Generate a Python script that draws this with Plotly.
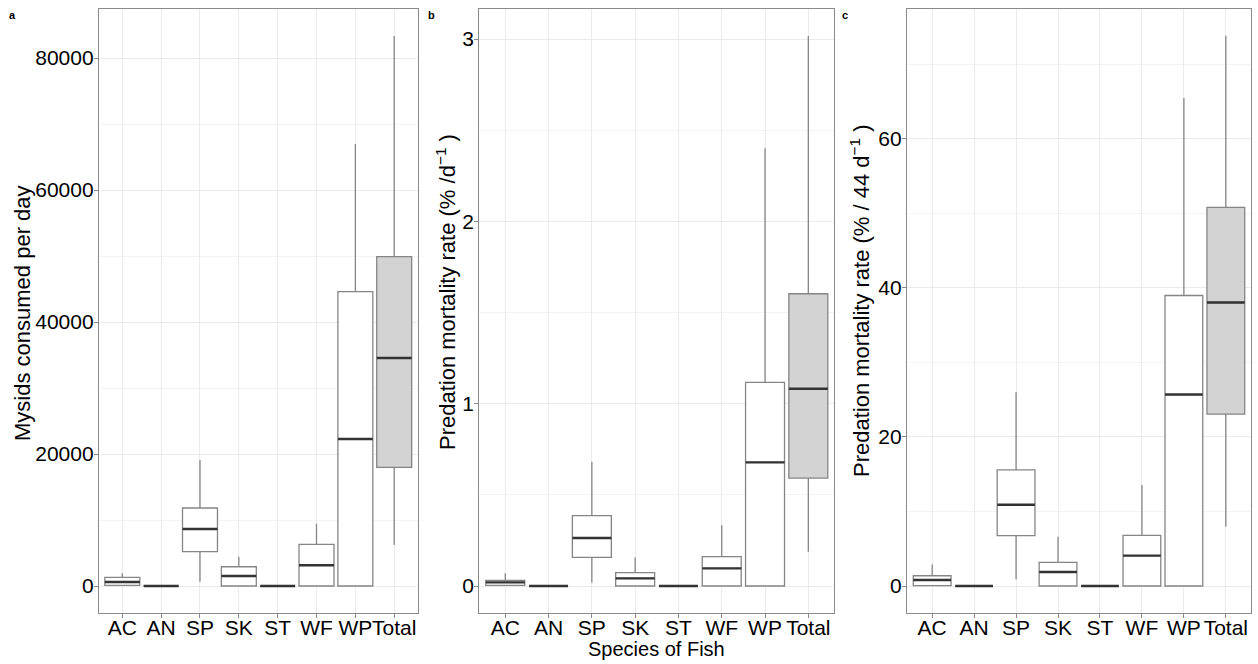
import plotly.graph_objects as go

W, H = 1258, 664

species = ["AC", "AN", "SP", "SK", "ST", "WF", "WP", "Total"]

# Panel a: mysids consumed per day
a_low = [0, 0, 650, 0, 0, 0, 0, 6200]
a_q1 = [100, 0, 5200, 0, 0, 0, 0, 17980]
a_med = [600, 0, 8640, 1520, 0, 3140, 22270, 34540]
a_q3 = [1300, 0, 11820, 2920, 0, 6320, 44590, 49890]
a_high = [1920, 0, 19090, 4440, 0, 9440, 66960, 83330]

# Panel b: predation mortality rate (% per day)
b_low = [0, 0, 0.018, 0, 0, 0, 0, 0.188]
b_q1 = [0.003, 0, 0.157, 0, 0, 0, 0, 0.592]
b_med = [0.02, 0, 0.263, 0.042, 0, 0.097, 0.678, 1.082]
b_q3 = [0.031, 0, 0.386, 0.073, 0, 0.161, 1.117, 1.603]
b_high = [0.07, 0, 0.682, 0.157, 0, 0.333, 2.401, 3.017]

# Panel c: predation mortality rate (% per 44 days)
c_low = [0, 0, 0.9, 0, 0, 0, 0, 7.96]
c_q1 = [0.05, 0, 6.75, 0, 0, 0, 0, 23.05]
c_med = [0.8, 0, 10.9, 1.88, 0, 4.07, 25.68, 38.03]
c_q3 = [1.38, 0, 15.57, 3.18, 0, 6.8, 38.97, 50.78]
c_high = [2.9, 0, 26.0, 6.6, 0, 13.56, 65.46, 73.8]

a_ticks = [0, 20000, 40000, 60000, 80000]
b_ticks = [0, 1, 2, 3]
c_ticks = [0, 20, 40, 60]

BOX_W = 0.9
BOX_LINE = "#858585"
MEDIAN_LINE = "#333333"
FRAME = "#8a8a8a"
FONT = "Liberation Sans, Arial, sans-serif"


def px_x(x):
    return x / W


def px_y(y):
    return 1 - y / H


panels = [
    dict(low=a_low, q1=a_q1, med=a_med, q3=a_q3, high=a_high,
         ticks=a_ticks, minor=10000, rng=[-4091, 87424], dom=[99, 417.5],
         title="Mysids consumed per day", tx=22, ty=313, label="a", lx=13),
    dict(low=b_low, q1=b_q1, med=b_med, q3=b_q3, high=b_high,
         ticks=b_ticks, minor=0.5, rng=[-0.148, 3.165], dom=[479.3, 834.3],
         title="Predation mortality rate (% /d<sup>\u22121</sup> )", tx=446, ty=292,
         label="b", lx=431),
    dict(low=c_low, q1=c_q1, med=c_med, q3=c_q3, high=c_high,
         ticks=c_ticks, minor=10, rng=[-3.62, 77.4], dom=[907, 1251],
         title="Predation mortality rate (% / 44 d<sup>\u22121</sup> )", tx=860, ty=301,
         label="c", lx=845),
]

positions = list(range(1, len(species) + 1))
fig = go.Figure()
annotations = []
layout = {}

for i, p in enumerate(panels):
    n = "" if i == 0 else str(i + 1)
    xa, ya = "x" + n, "y" + n
    for sel, fill in ((slice(0, 7), "white"), (slice(7, 8), "#D3D3D3")):
        fig.add_trace(go.Box(
            x=positions[sel], q1=p["q1"][sel], median=p["med"][sel], q3=p["q3"][sel],
            lowerfence=p["low"][sel], upperfence=p["high"][sel],
            width=BOX_W, whiskerwidth=0, fillcolor=fill,
            line=dict(color=BOX_LINE, width=1.3), boxpoints=False,
            xaxis=xa, yaxis=ya, showlegend=False, hoverinfo="skip",
        ))
    # heavier median bars drawn on top of the boxes
    mx, my = [], []
    for pos, m in zip(positions, p["med"]):
        mx += [pos - BOX_W / 2, pos + BOX_W / 2, None]
        my += [m, m, None]
    fig.add_trace(go.Scatter(x=mx, y=my, mode="lines",
                             line=dict(color=MEDIAN_LINE, width=2.4),
                             xaxis=xa, yaxis=ya, showlegend=False, hoverinfo="skip"))

    layout["xaxis" + n] = dict(
        domain=[px_x(p["dom"][0]), px_x(p["dom"][1])], anchor=ya,
        range=[0.4, 8.6], tickmode="array", tickvals=positions, ticktext=species,
        tickangle=0, automargin=False, ticklabelstandoff=-8,
        showgrid=True, gridcolor="#EBEBEB", gridwidth=1, zeroline=False,
        showline=True, mirror=True, linecolor=FRAME, linewidth=1.3,
        ticks="outside", ticklen=4, tickcolor=FRAME, tickwidth=1,
        tickfont=dict(family=FONT, size=21, color="black"),
    )
    layout["yaxis" + n] = dict(
        domain=[px_y(613), px_y(9)], anchor=xa,
        range=p["rng"], tickmode="array", tickvals=p["ticks"],
        ticktext=[str(t) for t in p["ticks"]], automargin=False,
        ticklabelstandoff=-4,
        showgrid=True, gridcolor="#EBEBEB", gridwidth=1, zeroline=False,
        minor=dict(showgrid=True, gridcolor="#F4F4F4", gridwidth=1,
                   tickmode="linear", tick0=0, dtick=p["minor"], ticks=""),
        showline=True, mirror=True, linecolor=FRAME, linewidth=1.3,
        ticks="outside", ticklen=4, tickcolor=FRAME, tickwidth=1,
        tickfont=dict(family=FONT, size=21, color="black"),
    )
    annotations.append(dict(
        text=p["title"], textangle=-90, xref="paper", yref="paper",
        x=px_x(p["tx"]), y=px_y(p["ty"]), xanchor="center", yanchor="middle",
        showarrow=False, font=dict(family=FONT, size=22, color="black"),
    ))
    annotations.append(dict(
        text="<b>" + p["label"] + "</b>", xref="paper", yref="paper",
        x=px_x(p["lx"]), y=px_y(15), xanchor="center", yanchor="middle",
        showarrow=False, font=dict(family=FONT, size=11, color="black"),
    ))

annotations.append(dict(
    text="Species of Fish", xref="paper", yref="paper",
    x=px_x(656.5), y=px_y(649), xanchor="center", yanchor="middle",
    showarrow=False, font=dict(family=FONT, size=20, color="black"),
))

fig.update_layout(
    width=W, height=H, autosize=False,
    margin=dict(l=0, r=0, t=0, b=0),
    paper_bgcolor="white", plot_bgcolor="white",
    annotations=annotations, **layout,
)

fig.write_html("out.html")
